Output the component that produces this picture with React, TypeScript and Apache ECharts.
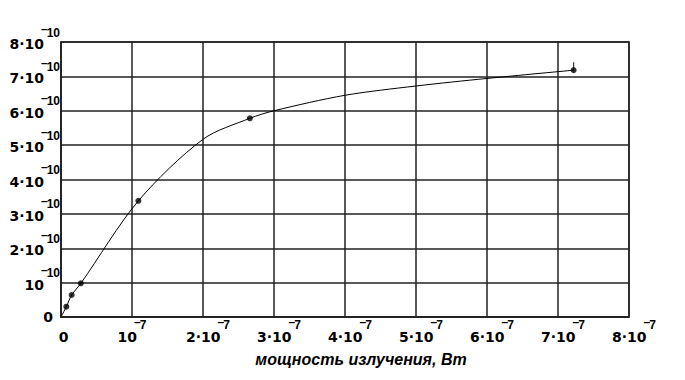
import React, { useEffect, useRef } from "react";
import * as echarts from "echarts";

// x in units of 1e-7 W, y in units of 1e-10
const xTickValues = [0, 1, 2, 3, 4, 5, 6, 7, 8];
const yTickValues = [0, 1, 2, 3, 4, 5, 6, 7, 8];
const xExponent = "7";
const yExponent = "10";
const xAxisTitle = "мощность излучения, Вт";

// measured points
const pointX = [0.075, 0.15, 0.28, 1.09, 2.66, 7.22];
const pointY = [0.3, 0.64, 0.98, 3.38, 5.78, 7.18];

// fitted curve
const curveX = [0, 0.075, 0.15, 0.28, 1.09, 2.0, 2.66, 3.0, 4.0, 5.0, 6.0, 7.22];
const curveY = [0, 0.3, 0.64, 0.98, 3.38, 5.17, 5.78, 6.0, 6.45, 6.72, 6.94, 7.18];

const BASE_FONT = "'DejaVu Sans', sans-serif";
const SUP_FONT = "'Liberation Sans', Arial, sans-serif";

export default function App() {
  const ref = useRef<HTMLDivElement>(null);
  useEffect(() => {
    if (!ref.current) return;
    const chart = echarts.init(ref.current, undefined, { renderer: "svg" });
    const base = { fontFamily: BASE_FONT, fontWeight: "bold", fontSize: 14, color: "#000", lineHeight: 16 };
    const sup = { fontFamily: SUP_FONT, fontWeight: "bold", fontSize: 12, color: "#000", lineHeight: 13 };
    const gridLine = { lineStyle: { color: "#222", width: 1.5, type: "solid" } };
    const lastIdx = pointX.length - 1;
    chart.setOption({
      animation: false,
      backgroundColor: "#fff",
      grid: { left: 61, right: 56, top: 42, bottom: 63, containLabel: false, show: false },
      xAxis: {
        type: "value",
        min: 0,
        max: 8,
        interval: 1,
        axisLine: { show: true, lineStyle: { color: "#222", width: 1.5 } },
        axisTick: { show: false },
        splitLine: { show: true, ...gridLine },
        axisLabel: {
          margin: 12,
          showMinLabel: true,
          showMaxLabel: true,
          formatter: (v: number) => {
            if (!xTickValues.includes(v)) return "";
            if (v === 0) return "{z|0}";
            if (v === 1) return "{b|10}{m|–}{s|" + xExponent + "}";
            return "{p|" + v + "·10}{m|–}{s|" + xExponent + "}";
          },
          rich: {
            z: { ...base, padding: [0, 0, 0, 5] },
            b: { ...base },
            p: { ...base, padding: [0, 0, 0, 10] },
            m: { ...sup, padding: [-15, 0, 15, -3] },
            s: { ...sup, padding: [-12, 0, 12, -1] },
          },
        },
      },
      yAxis: {
        type: "value",
        min: 0,
        max: 8,
        interval: 1,
        axisLine: { show: true, lineStyle: { color: "#222", width: 1.5 } },
        axisTick: { show: false },
        splitLine: { show: true, ...gridLine },
        axisLabel: {
          margin: 1,
          showMinLabel: true,
          showMaxLabel: true,
          formatter: (v: number) => {
            if (!yTickValues.includes(v)) return "";
            if (v === 0) return "{z|0}";
            if (v === 1) return "{b|10}{m|–}{s|" + yExponent + "}";
            return "{b|" + v + "·10}{m|–}{s|" + yExponent + "}";
          },
          rich: {
            z: { ...base, padding: [0, 7, 0, 0] },
            b: { ...base, padding: [2, 0, -2, 0] },
            m: { ...sup, padding: [-13, 0, 13, -3] },
            s: { ...sup, padding: [-9.5, 0, 9.5, -1] },
          },
        },
      },
      graphic: [
        {
          type: "rect",
          shape: { x: 61, y: 42, width: 568, height: 275 },
          style: { fill: "none", stroke: "#222", lineWidth: 1.5 },
          z: 5,
          silent: true,
        },
        {
          type: "text",
          x: 361,
          y: 359,
          style: {
            text: xAxisTitle,
            fontFamily: SUP_FONT,
            fontWeight: "bold",
            fontStyle: "italic",
            fontSize: 16,
            fill: "#000",
            textAlign: "center",
            textVerticalAlign: "middle",
          },
        },
      ],
      series: [
        {
          type: "line",
          data: curveX.map((x, i) => [x, curveY[i]]),
          smooth: 0.3,
          showSymbol: false,
          lineStyle: { color: "#000", width: 1 },
          z: 3,
        },
        {
          type: "scatter",
          data: pointX.map((x, i) => [x, pointY[i]]),
          symbol: "circle",
          symbolSize: 6,
          itemStyle: { color: "#000" },
          z: 4,
        },
        {
          type: "scatter",
          data: [[pointX[lastIdx], pointY[lastIdx]]],
          symbol: "rect",
          symbolSize: [1.2, 8],
          symbolOffset: [0, -4],
          itemStyle: { color: "#000" },
          z: 4,
        },
      ],
    });
    return () => chart.dispose();
  }, []);
  return (
    <div
      ref={ref}
      style={{ position: "fixed", left: 0, top: 0, width: 685, height: 380, background: "#fff" }}
    />
  );
}
